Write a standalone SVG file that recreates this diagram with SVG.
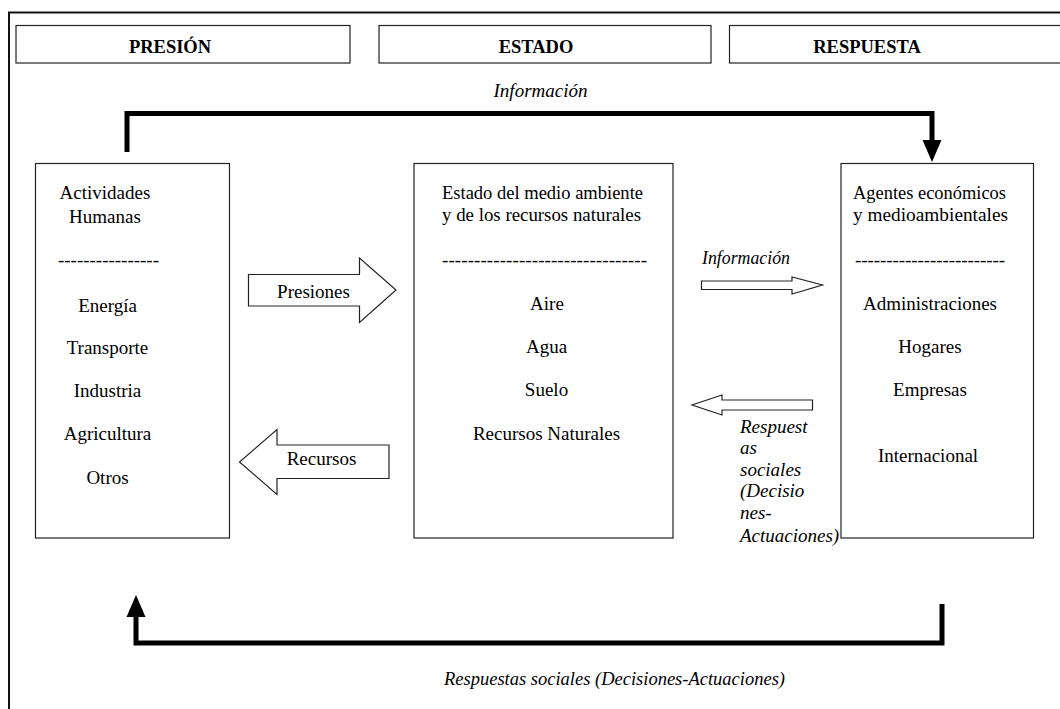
<svg xmlns="http://www.w3.org/2000/svg" width="1060" height="709" viewBox="0 0 1060 709">
  <style>
    .box { fill: #fff; stroke: #222; stroke-width: 1.2; }
    .frame { fill: none; stroke: #111; stroke-width: 2; }
    .blk { fill: none; stroke: #000; stroke-width: 5; stroke-linejoin: miter; stroke-linecap: butt; }
    .head { fill: #000; }
    .barrow { fill: #fff; stroke: #222; stroke-width: 1.2; stroke-linejoin: miter; }
    text { font-family: "Liberation Serif", "Times New Roman", serif; fill: #000; font-size: 19px; }
    .hdr { font-weight: bold; font-size: 18.5px; text-anchor: middle; }
    .it { font-style: italic; }
    .mid { text-anchor: middle; }
  </style>

  <rect width="1060" height="709" fill="#fff"/>

  <!-- outer frame -->
  <path class="frame" d="M9,709 V12.5 H1060"/>

  <!-- column headers -->
  <g id="hdr-presion">
    <rect class="box" x="16" y="25.5" width="334" height="37.5"/>
    <text class="hdr" x="170" y="53">PRESIÓN</text>
  </g>
  <g id="hdr-estado">
    <rect class="box" x="379" y="25.5" width="332" height="37.5"/>
    <text class="hdr" x="536" y="53">ESTADO</text>
  </g>
  <g id="hdr-respuesta">
    <rect class="box" x="729.5" y="25.5" width="340" height="37.5"/>
    <text class="hdr" x="867" y="53">RESPUESTA</text>
  </g>

  <!-- pressure: human activities -->
  <g id="actividades">
    <rect class="box" x="35.5" y="163.5" width="194" height="374.5"/>
    <text class="mid" x="105" y="199">Actividades</text>
    <text class="mid" x="105" y="223">Humanas</text>
    <text x="58" y="266" textLength="101" lengthAdjust="spacing">----------------</text>
    <text class="mid" x="107.5" y="311.5">Energía</text>
    <text class="mid" x="107.5" y="353.5">Transporte</text>
    <text class="mid" x="107.5" y="396.5">Industria</text>
    <text class="mid" x="107.5" y="440">Agricultura</text>
    <text class="mid" x="107.5" y="483.5">Otros</text>
  </g>

  <!-- state: environment and natural resources -->
  <g id="estado">
    <rect class="box" x="414" y="163.5" width="259" height="374.5"/>
    <text x="442" y="198.5" textLength="201" lengthAdjust="spacingAndGlyphs">Estado del medio ambiente</text>
    <text x="442" y="221" textLength="199" lengthAdjust="spacingAndGlyphs">y de los recursos naturales</text>
    <text x="442" y="266" textLength="205" lengthAdjust="spacing">--------------------------------</text>
    <text class="mid" x="547" y="309.5">Aire</text>
    <text class="mid" x="546.5" y="353">Agua</text>
    <text class="mid" x="546.5" y="396">Suelo</text>
    <text class="mid" x="546.5" y="439.5">Recursos Naturales</text>
  </g>

  <!-- response: economic and environmental agents -->
  <g id="agentes">
    <rect class="box" x="841" y="163.5" width="192.5" height="374.5"/>
    <text x="853" y="198.5" textLength="153" lengthAdjust="spacingAndGlyphs">Agentes económicos</text>
    <text x="853" y="221" textLength="155" lengthAdjust="spacingAndGlyphs">y medioambientales</text>
    <text x="855" y="266" textLength="150" lengthAdjust="spacing">------------------------</text>
    <text class="mid" x="930" y="309.5">Administraciones</text>
    <text class="mid" x="930" y="353">Hogares</text>
    <text class="mid" x="930" y="396">Empresas</text>
    <text class="mid" x="928" y="461.5">Internacional</text>
  </g>

  <!-- connectors -->
  <g id="connectors">
    <!-- top feedback: information -->
    <path class="blk" d="M127,152 V113.5 H932 V141"/>
    <polygon class="head" points="922.5,140 941.5,140 932,162"/>
    <text class="it mid" x="540.5" y="97">Información</text>

    <!-- bottom feedback: social responses -->
    <path class="blk" d="M942,604 V643 H136 V615"/>
    <polygon class="head" points="126.5,617 145.5,617 136,595"/>
    <text class="it" x="444" y="685" textLength="341" lengthAdjust="spacingAndGlyphs">Respuestas sociales (Decisiones-Actuaciones)</text>

    <!-- pressures -->
    <polygon class="barrow" points="248.5,274.5 359.5,274.5 359.5,258 396,290 359.5,322.5 359.5,306 248.5,306"/>
    <text class="mid" x="313.5" y="297.5">Presiones</text>

    <!-- resources -->
    <polygon class="barrow" points="389,445 277,445 277,429.5 239.5,462 277,494.5 277,478.5 389,478.5"/>
    <text class="mid" x="321.5" y="465">Recursos</text>

    <!-- information to agents -->
    <polygon class="barrow" points="701.5,281 792,281 792,277 822.5,285 792,294 792,289.5 701.5,289.5"/>
    <text class="it" x="702" y="263.5" textLength="88" lengthAdjust="spacingAndGlyphs">Información</text>

    <!-- social responses to state -->
    <polygon class="barrow" points="812.5,400 722,400 722,395 692,405 722,415 722,410 812.5,410"/>
    <text class="it" x="740" y="432.5">Respuest</text>
    <text class="it" x="740" y="454">as</text>
    <text class="it" x="740" y="476">sociales</text>
    <text class="it" x="740" y="497">(Decisio</text>
    <text class="it" x="740" y="519">nes-</text>
    <text class="it" x="740" y="541.5">Actuaciones)</text>
  </g>
</svg>
